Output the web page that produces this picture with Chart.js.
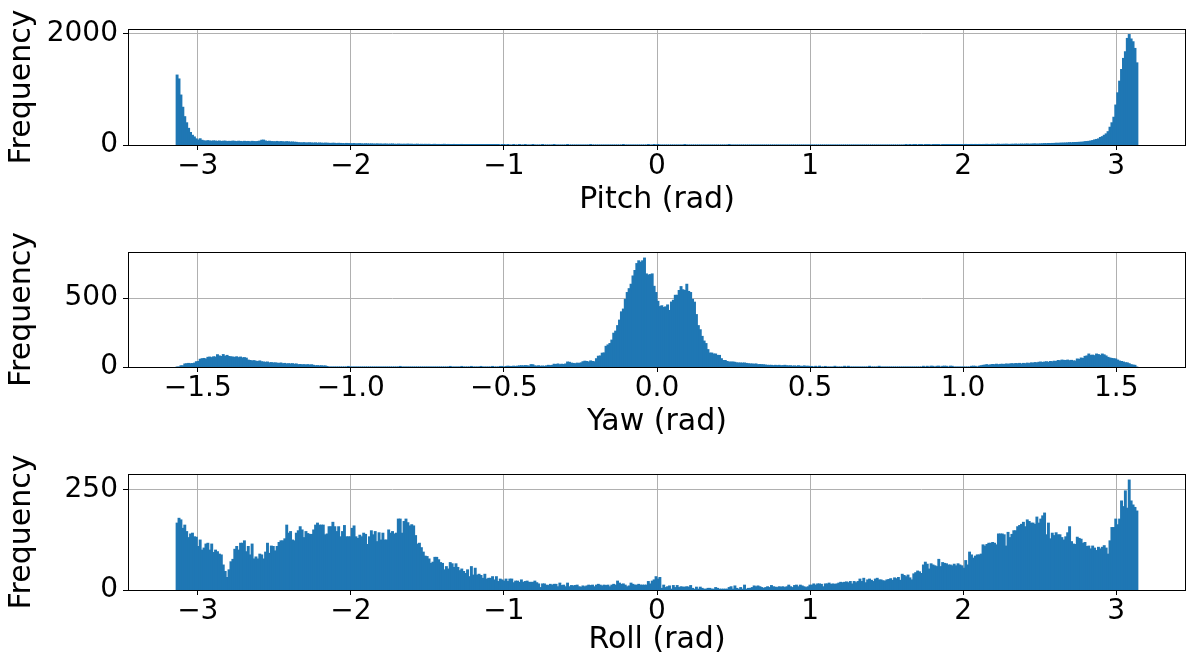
<!DOCTYPE html>
<html>
<head>
<meta charset="utf-8">
<script src="https://cdn.jsdelivr.net/npm/chart.js@4.4.1/dist/chart.umd.min.js"></script>
<style>
html, body { margin: 0; padding: 0; background: #fff; }
#wrap { position: relative; width: 1187px; height: 659px; overflow: hidden; }
.box { position: absolute; left: 0; width: 1187px; }
</style>
</head>
<body>
<div id="wrap">
  <div class="box" style="top:0px;height:222px"><canvas id="pitch" width="1187" height="222"></canvas></div>
  <div class="box" style="top:222px;height:222px"><canvas id="yaw" width="1187" height="222"></canvas></div>
  <div class="box" style="top:444px;height:215px"><canvas id="roll" width="1187" height="215"></canvas></div>
</div>
<script>
// histogram counts, 500 bins each (pitch/roll over [-pi, pi], yaw over [-pi/2, pi/2])
var pitchCounts = [
  1260,1190,900,680,510,400,300,225,175,145,
  110,90,112,85,75,70,78,72,68,74,
  70,66,72,64,68,70,62,66,64,70,
  66,62,68,64,60,66,62,64,58,66,
  62,60,64,70,86,88,72,64,68,62,
  60,58,64,56,62,58,54,60,56,52,
  54,50,48,42,40,38,42,36,38,40,
  36,34,38,32,36,34,30,34,32,30,
  28,32,30,26,30,28,26,24,28,26,
  24,22,26,20,22,24,20,18,22,20,
  18,20,18,16,20,16,18,14,18,16,
  14,16,18,14,12,16,14,12,14,12,
  16,12,14,10,12,14,10,12,10,12,
  10,12,8,10,12,8,10,8,10,12,
  8,10,8,6,10,8,6,8,10,6,
  8,6,8,6,4,8,6,4,6,4,
  4,6,4,2,4,2,4,2,0,2,
  2,0,2,0,0,2,0,0,2,0,
  0,2,0,0,0,2,0,0,0,0,
  2,0,0,0,0,0,2,0,0,0,
  0,0,0,2,0,0,0,0,0,0,
  0,0,0,0,0,2,0,0,0,0,
  0,0,0,0,0,0,0,0,0,0,
  0,0,2,0,0,0,0,0,0,0,
  0,0,0,0,0,2,0,0,2,0,
  2,0,0,0,0,0,0,0,0,0,
  0,0,0,0,2,0,0,0,0,0,
  0,0,0,0,0,0,0,0,0,0,
  0,0,0,0,0,0,0,2,0,0,
  0,0,0,0,0,0,0,0,0,0,
  0,0,0,0,0,0,0,0,0,0,
  0,0,0,0,0,0,0,0,0,0,
  0,0,0,0,0,0,0,0,0,0,
  0,0,0,0,0,0,0,0,0,0,
  0,0,0,0,0,0,0,0,0,0,
  0,0,0,0,0,0,0,0,0,0,
  0,0,0,0,0,0,0,0,0,0,
  0,0,0,0,0,0,0,0,0,4,
  0,4,0,6,4,0,6,4,0,6,
  4,6,0,6,4,6,4,0,6,4,
  6,4,6,8,4,6,8,6,4,8,
  10,8,6,10,8,10,6,10,8,10,
  10,12,8,10,12,10,12,14,10,12,
  12,14,12,10,14,12,16,12,14,16,
  14,16,18,14,16,18,20,16,18,20,
  22,25,24,27,26,28,28,32,30,33,
  34,35,36,38,42,40,44,45,46,48,
  50,52,60,62,66,72,80,92,100,110,
  135,150,175,200,240,320,400,500,720,940,
  1150,1360,1560,1680,1920,1990,1910,1860,1740,1480
];

var yawCounts = [
  0,0,9,9,22,24,26,24,25,28,
  38,40,56,60,62,58,70,72,68,74,
  72,89,80,76,90,78,84,76,74,72,
  70,74,68,72,66,68,64,50,47,44,
  46,42,40,44,38,36,34,36,30,32,
  29,30,28,26,29,24,26,22,24,22,
  24,20,22,17,18,16,17,15,17,14,
  16,12,9,10,8,9,7,8,4,0,
  0,0,0,0,0,0,0,0,0,4,
  0,0,0,0,0,0,0,0,0,0,
  0,0,0,0,0,0,0,0,0,0,
  0,0,0,0,0,0,4,0,0,0,
  0,0,0,0,0,0,0,0,0,0,
  0,0,0,0,0,0,0,0,0,0,
  0,0,4,0,0,0,0,0,4,0,
  0,0,0,4,0,0,0,0,4,0,
  0,0,0,0,4,0,0,0,4,4,
  0,4,6,4,4,6,4,6,8,9,
  8,10,9,6,17,16,8,6,9,5,
  7,5,8,12,10,12,20,18,22,17,
  20,18,22,36,34,28,26,24,28,26,
  30,38,42,40,36,44,40,38,60,78,
  80,100,102,150,160,170,195,245,260,300,
  340,400,420,490,540,568,600,660,700,750,
  770,760,770,790,675,667,670,675,585,540,
  476,438,444,432,436,450,410,471,484,520,
  520,555,583,560,555,600,548,540,490,470,
  380,300,270,222,188,170,126,101,101,94,
  94,84,84,60,47,47,40,36,36,36,
  34,30,29,29,28,29,26,24,22,22,
  20,22,17,18,17,16,14,12,12,12,
  10,12,10,12,9,10,12,9,8,9,
  6,8,5,9,6,4,8,5,6,4,
  4,0,5,0,6,0,0,4,0,0,
  0,0,5,0,0,0,0,5,0,5,
  0,0,0,0,0,0,0,0,0,0,
  5,0,0,0,0,5,0,0,0,0,
  0,0,0,0,0,0,0,0,0,0,
  0,0,0,0,0,0,0,0,5,0,
  5,0,6,5,0,5,6,0,5,6,
  5,0,6,5,0,0,0,0,0,0,
  0,0,0,5,6,5,0,6,9,12,
  14,17,12,16,18,17,20,17,19,20,
  18,22,20,22,24,22,25,24,26,22,
  26,24,28,25,30,28,32,30,34,36,
  33,36,38,34,40,38,42,40,47,45,
  50,48,47,50,46,48,44,43,58,55,
  65,62,77,80,94,84,86,82,94,90,
  84,94,88,80,70,65,62,60,58,50,
  43,40,36,31,30,24,17,14,12,0
];

var rollCounts = [
  166,178,174,153,161,145,130,139,141,132,131,108,124,99,104,
  114,116,99,114,93,99,95,89,87,62,46,31,50,70,76,101,108,99,116,116,122,95,108,87,114,77,82,
  77,89,87,77,94,116,91,109,108,97,108,118,122,122,127,161,141,145,124,122,141,147,157,149,130,145,140,
  138,138,149,161,166,161,161,161,137,139,157,157,168,157,145,157,132,145,160,132,132,132,153,159,132,128,136,
  132,141,138,113,132,147,137,145,120,142,124,141,124,124,149,141,145,139,141,176,176,141,170,176,167,159,162,
  159,135,114,116,105,94,84,83,77,66,69,81,81,75,68,66,50,58,52,68,65,56,65,56,48,52,46,
  41,50,33,58,37,54,37,39,36,29,39,27,29,29,33,25,33,21,27,25,22,27,21,27,27,18,22,
  22,19,25,19,21,22,19,19,19,22,18,15,6,15,15,12,11,14,12,14,14,8,17,
  11,12,8,17,8,11,10,11,12,8,7,10,8,10,12,11,12,8,12,14,12,10,12,11,12,8,12,14,12,
  22,17,14,15,12,8,10,17,14,12,12,
  14,12,12,12,12,21,15,22,25,33,
  27,31,4,12,6,8,10,2,11,6,
  11,6,8,7,7,8,7,11,4,2,7,2,7,4,2,2,4,4,2,2,6,4,2,2,2,2,2,6,8,2,10,4,2,6,2,12,2,4,4,6,
  10,8,10,8,6,4,6,8,6,11,8,7,6,8,7,8,6,8,12,8,6,11,12,8,12,10,8,6,8,12,12,15,12,15,
  15,14,8,15,15,17,14,15,14,15,17,19,18,19,20,18,21,15,21,18,21,27,21,29,18,25,27,24,21,27,29,25,25,23,22,25,26,28,24,30,
  28,31,24,39,36,33,37,30,25,40,43,47,45,41,
  62,69,64,52,65,62,60,58,76,58,68,66,65,62,62,60,64,60,65,62,60,
  54,73,62,94,87,79,84,87,87,89,112,109,113,116,116,118,116,112,139,139,139,
  137,109,143,130,138,147,147,157,160,163,168,157,174,170,166,166,163,181,166,176,184,191,137,166,
  127,141,135,142,137,137,130,124,132,142,157,120,114,113,131,128,
  126,116,118,108,109,102,109,104,98,106,102,106,110,104,89,
  122,155,155,176,162,176,221,207,246,203,273,221,211,205,196
];

// axis ranges and tick labels
var pitchXTicks = [-3, -2, -1, 0, 1, 2, 3];
var yawXTicks = [-1.5, -1.0, -0.5, 0.0, 0.5, 1.0, 1.5];
var rollXTicks = [-3, -2, -1, 0, 1, 2, 3];
var pitchYTicks = [0, 2000];
var yawYTicks = [0, 500];
var rollYTicks = [0, 250];

[['pitch', pitchCounts], ['yaw', yawCounts], ['roll', rollCounts]].forEach(function (p) {
  if (p[1].length !== 500) throw new Error(p[0] + ' has ' + p[1].length + ' bins');
});

Chart.defaults.font.family = 'DejaVu Sans';
Chart.defaults.color = '#000';

var spines = {
  id: 'spines',
  afterDraw: function (chart) {
    var a = chart.chartArea, ctx = chart.ctx;
    ctx.save();
    ctx.strokeStyle = '#000';
    ctx.lineWidth = 1;
    ctx.strokeRect(a.left + 0.5, a.top + 0.5, a.right - a.left - 1, a.bottom - a.top);
    ctx.restore();
  }
};

function fmt(dec) {
  return function (v) {
    return (v < 0 ? '\u2212' : '') + Math.abs(v).toFixed(dec);
  };
}

function fixTicks(list) {
  return function (s) { s.ticks = list.map(function (v) { return { value: v }; }); };
}

function hist(id, counts, lo, hi, xRange, xTicks, xDec, yMax, yTicks, label, padTop, axisH, titlePad) {
  var w = (hi - lo) / counts.length;
  var pts = counts.map(function (c, i) { return { x: lo + (i + 0.5) * w, y: c }; });
  new Chart(document.getElementById(id), {
    type: 'bar',
    data: {
      datasets: [{
        data: pts,
        backgroundColor: '#1f77b4',
        borderWidth: 0,
        inflateAmount: 0.5,
        barPercentage: 1,
        categoryPercentage: 1
      }]
    },
    options: {
      responsive: false,
      animation: false,
      devicePixelRatio: 1,
      layout: { padding: { top: padTop, right: 1, left: 0, bottom: 0 } },
      plugins: { legend: { display: false }, tooltip: { enabled: false } },
      scales: {
        x: {
          type: 'linear',
          min: -xRange, max: xRange,
          offset: false,
          z: 1,
          border: { display: false },
          grid: { offset: false, color: '#b0b0b0', lineWidth: 1, tickColor: '#000', tickLength: 5 },
          ticks: { font: { size: 28 }, padding: 0, maxRotation: 0, autoSkip: false, callback: fmt(xDec) },
          afterBuildTicks: fixTicks(xTicks),
          title: { display: true, text: label, font: { size: 30 }, padding: { top: 0, bottom: titlePad } },
          afterFit: function (s) { s.height = axisH; }
        },
        y: {
          min: 0, max: yMax,
          z: 1,
          border: { display: false },
          grid: { color: '#b0b0b0', lineWidth: 1, tickColor: '#000', tickLength: 5 },
          ticks: { font: { size: 28 }, padding: 5, autoSkip: false, callback: fmt(0) },
          afterBuildTicks: fixTicks(yTicks),
          title: { display: true, text: 'Frequency', font: { size: 30 }, padding: { top: 4, bottom: 0 } },
          afterFit: function (s) { s.width = 128; }
        }
      }
    },
    plugins: [spines]
  });
}

hist('pitch', pitchCounts, -Math.PI, Math.PI, 3.456, pitchXTicks, 0, 2090, pitchYTicks, 'Pitch (rad)', 29, 77, 4);
hist('yaw', yawCounts, -Math.PI / 2, Math.PI / 2, 1.728, yawXTicks, 1, 834, yawYTicks, 'Yaw (rad)', 30, 77, 4);
hist('roll', rollCounts, -Math.PI, Math.PI, 3.456, rollXTicks, 0, 288, rollYTicks, 'Roll (rad)', 30, 69, 1);
</script>
</body>
</html>
